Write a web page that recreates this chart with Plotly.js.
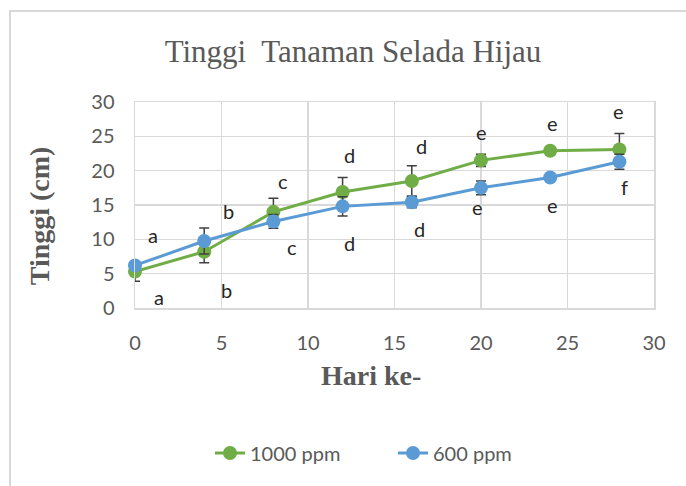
<!DOCTYPE html>
<html>
<head>
<meta charset="utf-8">
<script src="https://cdn.plot.ly/plotly-3.0.1.min.js"></script>
<style>
  html, body { margin: 0; padding: 0; background: #ffffff; overflow: hidden; }
  #frame { position: absolute; left: 9px; top: 10px; width: 720px; height: 520px;
           border-left: 2px solid #d9d9d9; border-top: 2px solid #d9d9d9; }
  #chart { position: absolute; left: 0; top: 0; width: 686px; height: 486px; }
</style>
</head>
<body>
<div id="frame"></div>
<div id="chart"></div>
<script>
// ---- data ----
const days = [0, 4, 8, 12, 16, 20, 24, 28];
const h1000 = [5.3, 8.2, 14.0, 16.9, 18.5, 21.5, 22.9, 23.1];
const err1000 = [1.4, 1.6, 2.0, 2.1, 2.2, 0.9, 0.3, 2.3];
const h600 = [6.2, 9.75, 12.6, 14.8, 15.4, 17.5, 19.0, 21.3];
const err600 = [0.4, 1.9, 1.0, 1.4, 0.8, 1.0, 0.3, 1.1];
const letters1000 = ['a', 'b', 'c', 'd', 'd', 'e', 'e', 'e'];
const letters600 = ['a', 'b', 'c', 'd', 'd', 'e', 'e', 'f'];
const seriesNames = ['1000 ppm', '600 ppm'];

// ---- label placement (pixel offsets from each point) ----
const shift1000 = [[18, 37], [24, 41], [10, 31], [7, 37], [10, 35], [0, 28], [2, 28], [-1, 38]];
const shift600 = [[24, -32], [22, -49], [19, -26], [7, -37], [8, -27], [-4, -19], [2, -27], [5, -25]];

const green = '#70AD47', blue = '#5B9BD5';
const errStyle = { type: 'data', visible: true, color: '#404040', thickness: 1.5, width: 5 };

const traces = [
  { x: days, y: h1000, name: seriesNames[0], type: 'scatter', mode: 'lines+markers',
    line: { color: green, width: 3 }, marker: { color: green, size: 14 },
    error_y: Object.assign({ array: err1000 }, errStyle), cliponaxis: false },
  { x: days, y: h600, name: seriesNames[1], type: 'scatter', mode: 'lines+markers',
    line: { color: blue, width: 3 }, marker: { color: blue, size: 14 },
    error_y: Object.assign({ array: err600 }, errStyle), cliponaxis: false }
];

const letterFont = { family: 'Lato, "Open Sans", sans-serif', size: 20, color: '#262626' };
const annotations = [];
days.forEach((d, i) => {
  annotations.push({ x: d, y: h1000[i], text: letters1000[i], showarrow: false,
    xshift: shift1000[i][0], yshift: shift1000[i][1], font: letterFont });
  annotations.push({ x: d, y: h600[i], text: letters600[i], showarrow: false,
    xshift: shift600[i][0], yshift: shift600[i][1], font: letterFont });
});
// axis titles
const axTitleFont = { family: '"Liberation Serif", "Times New Roman", serif', size: 28, color: '#595959', weight: 'bold' };
annotations.push({ xref: 'paper', yref: 'paper', x: 0.455, y: -0.33, text: '<b>Hari ke-</b>',
  showarrow: false, font: axTitleFont, xanchor: 'center', yanchor: 'middle' });
annotations.push({ xref: 'paper', yref: 'paper', x: -0.185, y: 0.45, text: '<b>Tinggi (cm)</b>',
  showarrow: false, font: axTitleFont, textangle: -90, xanchor: 'center', yanchor: 'middle' });

const tickFont = { family: 'Lato, "Open Sans", sans-serif', size: 20, color: '#595959' };

const layout = {
  width: 686, height: 486,
  paper_bgcolor: 'rgba(0,0,0,0)', plot_bgcolor: '#ffffff',
  margin: { l: 135, r: 32, t: 102, b: 178 },
  title: { text: 'Tinggi&nbsp; Tanaman Selada Hijau', xref: 'container', yref: 'container',
    x: 353 / 686, y: 1 - 51 / 486, xanchor: 'center', yanchor: 'middle',
    font: { family: '"Liberation Serif", "Times New Roman", serif', size: 31, color: '#595959' } },
  xaxis: { range: [0, 30], dtick: 5, tick0: 0, showgrid: true, gridcolor: '#d9d9d9', gridwidth: 1.5,
    showline: true, linecolor: '#d9d9d9', linewidth: 1.5, mirror: true, zeroline: false,
    ticks: 'outside', ticklen: 16, tickcolor: 'rgba(0,0,0,0)', tickfont: tickFont },
  yaxis: { range: [0, 30], dtick: 5, tick0: 0, showgrid: true, gridcolor: '#d9d9d9', gridwidth: 1.5,
    showline: true, linecolor: '#d9d9d9', linewidth: 1.5, mirror: true, zeroline: false,
    ticks: 'outside', ticklen: 15, tickcolor: 'rgba(0,0,0,0)', tickfont: tickFont },
  showlegend: true,
  legend: { orientation: 'h', xref: 'container', yref: 'container', x: 210 / 686, y: 1 - 453 / 486,
    xanchor: 'left', yanchor: 'middle', font: tickFont, bgcolor: 'rgba(0,0,0,0)',
    entrywidth: 138, entrywidthmode: 'pixels' },
  annotations: annotations
};

Plotly.newPlot('chart', traces, layout, { displayModeBar: false, staticPlot: true });
</script>
</body>
</html>
